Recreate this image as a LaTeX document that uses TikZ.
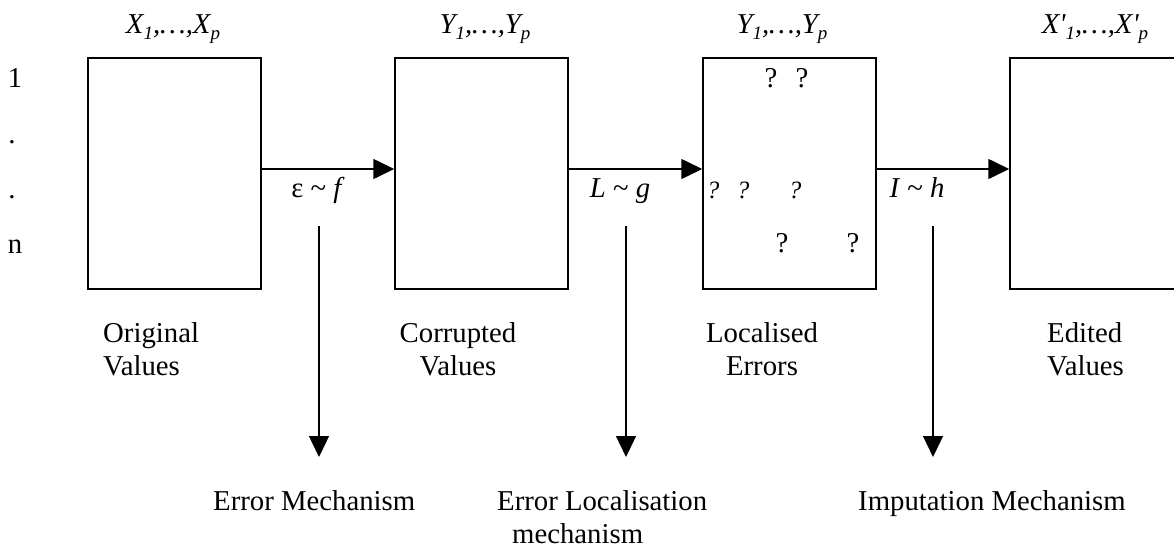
\documentclass[tikz,border=0pt]{standalone}
\usepackage{fontspec}
\setmainfont{Liberation Serif}
\usetikzlibrary{arrows.meta}
\newcommand\mysub[1]{\raisebox{-0.22em}{\fontsize{19}{20}\selectfont #1}}
\begin{document}
\begin{tikzpicture}[x=1pt,y=-1pt,font=\fontsize{28.75}{33}\selectfont,
  box/.style={draw, line width=1.5pt, minimum width=173pt, minimum height=231pt, inner sep=0pt},
  lbl/.style={inner sep=0pt, anchor=base},
  lblw/.style={inner sep=0pt, anchor=base west},
  qit/.style={inner sep=0pt, anchor=base, font=\fontsize{25}{28}\selectfont\itshape},
  harr/.style={line width=1.6pt, -{Triangle[length=21pt,width=20pt]}},
  varr/.style={line width=1.3pt, -{Triangle[length=21pt,width=20pt]}}]
\useasboundingbox (0,0) rectangle (1174,549);
% boxes
\node[box] (b1) at (174.5,173.5) {};
\node[box] (b2) at (481.5,173.5) {};
\node[box] (b3) at (789.5,173.5) {};
\node[box] (b4) at (1096.5,173.5) {};
% column headers
\node[lbl] (h1) at (173,33) {\textit{X\mysub{1},…,X\mysub{p}}};
\node[lbl] (h2) at (485,33) {\textit{Y\mysub{1},…,Y\mysub{p}}};
\node[lbl] (h3) at (782,33) {\textit{Y\mysub{1},…,Y\mysub{p}}};
\node[lbl] (h4) at (1095,33) {\textit{X\textquotesingle\mysub{1},…,X\textquotesingle\mysub{p}}};
% row labels
\node[lbl] (r1) at (15,87) {1};
\node[lbl] (r2) at (12,143) {.};
\node[lbl] (r3) at (12,198) {.};
\node[lbl] (r4) at (15,253) {n};
% horizontal arrows
\draw[harr] ([yshift=4.5pt]b1.east) -- ([yshift=4.5pt]b2.west);
\draw[harr] ([yshift=4.5pt]b2.east) -- ([yshift=4.5pt]b3.west);
\draw[harr] ([yshift=4.5pt]b3.east) -- ([yshift=4.5pt]b4.west);
% arrow labels
\node[lbl] (m1) at (318,197) {ε \textasciitilde{} \textit{f}};
\node[lbl] (m2) at (620,197) {\textit{L} \textasciitilde{} \textit{g}};
\node[lbl] (m3) at (917,197) {\textit{I} \textasciitilde{} \textit{h}};
% question marks
\node[lbl] (q1) at (771,87) {?};
\node[lbl] (q2) at (802,87) {?};
\node[qit] (q3) at (713,198) {?};
\node[qit] (q4) at (743,198) {?};
\node[qit] (q5) at (795,198) {?};
\node[lbl] (q6) at (782,252) {?};
\node[lbl] (q7) at (853,252) {?};
% vertical arrows
\coordinate (v1s) at (319,226); \coordinate (v1e) at (319,457);
\coordinate (v2s) at (626,226); \coordinate (v2e) at (626,457);
\coordinate (v3s) at (933,226); \coordinate (v3e) at (933,457);
\draw[varr] (v1s) -- (v1e);
\draw[varr] (v2s) -- (v2e);
\draw[varr] (v3s) -- (v3e);
% box captions (base anchor = last line)
\node[lblw, align=left] (c1) at (103,375) {Original\\Values};
\node[lbl, align=center] (c2) at (458,375) {Corrupted\\Values};
\node[lbl, align=center] (c3) at (762,375) {Localised\\Errors};
\node[lblw, align=left] (c4) at (1047,375) {Edited\\Values};
% mechanism captions
\node[lblw] (e1) at (213,510) {Error Mechanism};
\node[lblw] (e2) at (497,510) {Error Localisation};
\node[lblw] (e2b) at (512,543) {mechanism};
\node[lblw] (e3) at (858,510) {Imputation Mechanism};
\end{tikzpicture}
\end{document}
